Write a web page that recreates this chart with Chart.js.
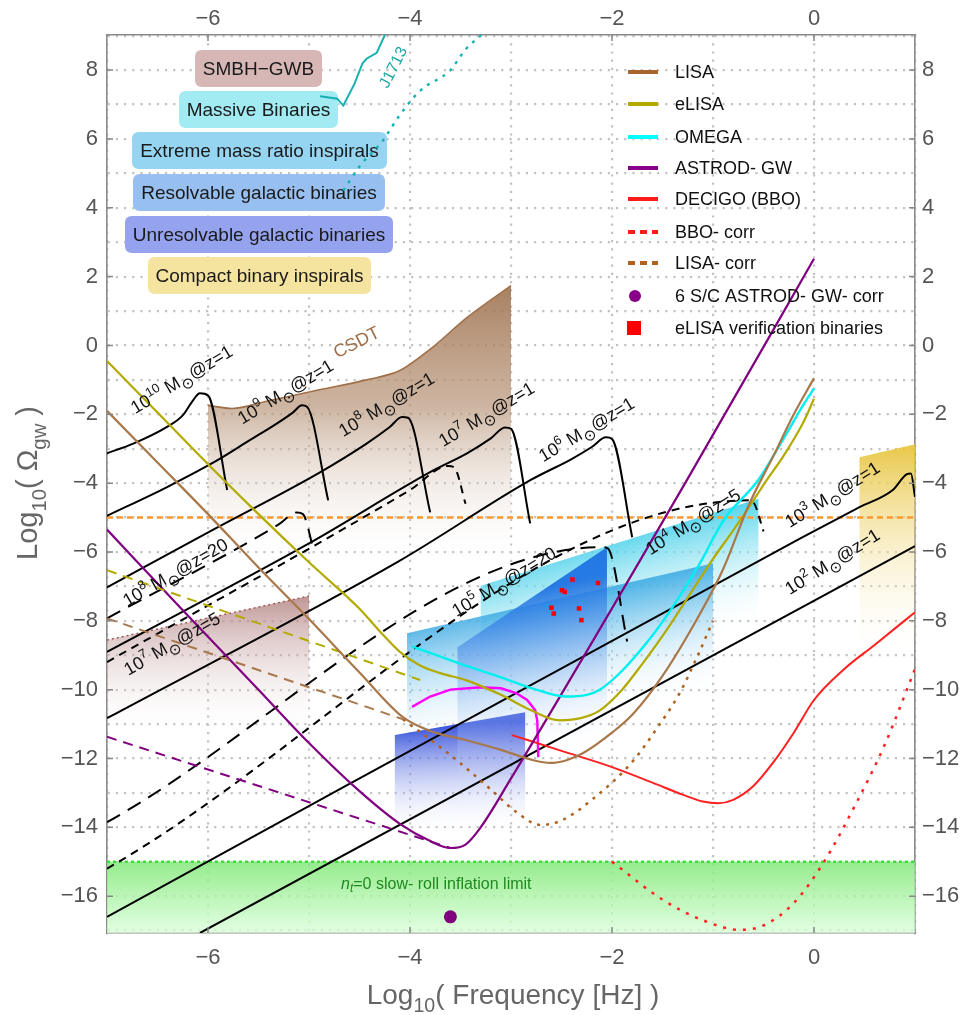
<!DOCTYPE html>
<html>
<head>
<meta charset="utf-8">
<script src="https://cdn.jsdelivr.net/npm/chart.js@4.4.1/dist/chart.umd.min.js"></script>
<style>
html,body{margin:0;padding:0;background:#fff;}
canvas{display:block;}
</style>
</head>
<body>
<canvas id="chart" width="968" height="1015"></canvas>
<script>
const FONT = '"Liberation Sans", Arial, sans-serif';

// ---- axes ----
const xRange = [-7, 1];
const yRange = [-17.07, 9.02];
const xGridValues = [-7, -6, -5, -4, -3, -2, -1, 0, 1];
const yGridValues = [-17, -16, -15, -14, -13, -12, -11, -10, -9, -8, -7, -6, -5, -4, -3, -2, -1, 0, 1, 2, 3, 4, 5, 6, 7, 8, 9];
const xTickLabels = [-6, -4, -2, 0];
const yTickLabels = [-16, -14, -12, -10, -8, -6, -4, -2, 0, 2, 4, 6, 8];

// ---- source regions (polygons) ----
const csdtTop = [[-6.0,-1.74],[-5.76,-1.83],[-5.42,-1.62],[-4.92,-1.3],[-4.43,-1.0],[-4.1,-0.73],[-3.78,-0.06],[-3.44,0.8],[-3.0,1.74]];
const csdtRegion = csdtTop.concat([[-3.0,-7.2],[-6.0,-7.2]]);
const smbhRegion = [[-7,-8.56],[-5.0,-7.28],[-5.0,-12],[-7,-12]];
const smbhTop = [[-7,-8.56],[-5.0,-7.28]];
const massiveRegion = [[-3.3,-6.98],[-0.55,-4.45],[-0.55,-10.5],[-3.3,-13]];
const emriRegion = [[-4.03,-8.36],[-1.0,-6.33],[-1.0,-12],[-4.03,-13]];
const resolvableRegion = [[-3.53,-8.77],[-2.05,-5.86],[-2.05,-12],[-3.53,-13]];
const unresolvableRegion = [[-4.15,-11.32],[-2.86,-10.66],[-2.86,-14.8],[-4.15,-14.8]];
const compactRegion = [[0.45,-3.25],[1.0,-2.87],[1.0,-9.6],[0.45,-9.6]];
const inflationRegion = [[-7,-15],[1,-15],[1,-17.07],[-7,-17.07]];
const inflationTop = [[-7,-15],[1,-15]];
const cmbLimit = [[-7,-5],[1,-5]];

// ---- detector sensitivity curves ----
const lisa = [[-7,-1.9],[-6.5,-3.4],[-6,-4.9],[-5.5,-6.45],[-5,-7.95],[-4.5,-9.5],[-4.07,-10.8],[-3.8,-11.2],[-3.44,-11.47],[-3.1,-11.75],[-2.78,-12.05],[-2.61,-12.13],[-2.45,-12.05],[-2.29,-11.85],[-2.0,-11.25],[-1.79,-10.7],[-1.5,-9.6],[-1.13,-7.8],[-0.9,-6.5],[-0.64,-4.6],[-0.4,-3.2],[-0.2,-2.0],[0,-0.95]];
const lisaLow = [[-7,-7.93],[-4.07,-10.86]];
const lisaCorr = [[-4.07,-10.86],[-3.6,-11.9],[-3.2,-12.9],[-2.95,-13.55],[-2.71,-13.93],[-2.5,-13.8],[-2.2,-13.2],[-1.8,-12.1],[-1.55,-11.1],[-1.33,-10.1],[-1.15,-9.0],[-1.0,-8.0]];
const elisa = [[-7,-0.45],[-6.5,-1.95],[-6,-3.45],[-5.5,-4.9],[-5,-6.3],[-4.5,-7.65],[-4.3,-8.3],[-4.1,-8.9],[-3.9,-9.3],[-3.7,-9.52],[-3.44,-9.73],[-3.1,-10.15],[-2.8,-10.6],[-2.52,-10.89],[-2.3,-10.82],[-2.12,-10.6],[-1.9,-10.0],[-1.7,-9.25],[-1.46,-8.27],[-1.2,-7.1],[-1.0,-6.2],[-0.8,-5.37],[-0.6,-4.5],[-0.47,-3.92],[-0.3,-3.2],[-0.1,-2.2],[0,-1.55]];
const elisaLow = [[-7,-6.53],[-3.9,-9.72]];
const omega = [[-3.98,-8.74],[-3.5,-9.25],[-3.1,-9.64],[-2.75,-10.0],[-2.45,-10.2],[-2.25,-10.15],[-2.12,-10.0],[-1.9,-9.45],[-1.62,-8.5],[-1.4,-7.6],[-1.13,-6.33],[-0.9,-5.1],[-0.55,-3.9],[-0.3,-2.7],[-0.1,-1.7],[0,-1.25]];
const astrod = [[-7,-5.35],[-6.28,-7.6],[-5.5,-10.0],[-5.0,-11.55],[-4.5,-12.95],[-4.1,-13.9],[-3.8,-14.4],[-3.6,-14.6],[-3.45,-14.5],[-3.3,-14.0],[-3.01,-12.63],[-1.26,-3.92],[0,2.52]];
const astrodLow = [[-7,-11.37],[-3.6,-14.6]];
const decigo = [[-2.99,-11.32],[-2.5,-11.78],[-2.0,-12.25],[-1.6,-12.7],[-1.3,-13.05],[-1.1,-13.25],[-0.95,-13.3],[-0.8,-13.2],[-0.6,-12.8],[-0.4,-12.1],[-0.2,-11.25],[0,-10.3],[0.3,-9.4],[0.6,-8.7],[1.0,-7.75]];
const bboCorr = [[-2.0,-15.0],[-1.5,-16.1],[-1.1,-16.7],[-0.73,-16.98],[-0.5,-16.85],[-0.2,-16.2],[0.1,-15.0],[0.4,-13.4],[0.7,-11.6],[1.0,-9.4]];
const magentaCurve = [[-3.98,-10.5],[-3.8,-10.2],[-3.6,-10.0],[-3.3,-9.93],[-3.1,-9.96],[-2.95,-10.1],[-2.84,-10.3],[-2.76,-10.6],[-2.74,-10.9],[-2.73,-11.96]];
const j1713 = [[-4.89,7.24],[-4.72,7.17],[-4.66,6.97],[-4.55,7.6],[-4.47,8.2],[-4.43,8.33],[-4.33,8.5],[-4.23,9.14]];
const j1713Dotted = [[-4.66,4.5],[-4.5,5.2],[-4.27,5.95],[-4.1,6.7],[-3.9,7.4],[-3.6,8.0],[-3.45,8.6],[-3.26,9.1]];
const astrodCorrPoint = [[-3.6,-16.6]];
const verificationBinaries = [[-2.392,-6.80],[-2.495,-7.11],[-2.468,-7.16],[-2.139,-6.90],[-2.60,-7.62],[-2.577,-7.79],[-2.327,-7.64],[-2.303,-7.98]];

// ---- black hole binary tracks ----
const track1e10z1 = [[-7,-3.13],[-6.74,-2.85],[-6.41,-2.37],[-6.25,-2.03],[-6.15,-1.6],[-6.08,-1.39],[-6.0,-1.45],[-5.81,-4.2]];
const track1e9z1 = [[-7,-4.95],[-6.41,-4.12],[-5.91,-3.34],[-5.59,-2.76],[-5.32,-2.27],[-5.16,-1.95],[-5.07,-1.74],[-5.02,-1.78],[-4.81,-4.5]];
const track1e8z1 = [[-7,-7.03],[-5.98,-5.4],[-4.9,-3.7],[-4.43,-2.85],[-4.2,-2.37],[-4.08,-2.08],[-4.02,-2.1],[-3.80,-4.85]];
const track1e7z1 = [[-7,-8.9],[-5,-5.75],[-3.77,-3.63],[-3.44,-3.14],[-3.2,-2.7],[-3.06,-2.38],[-3.0,-2.42],[-2.81,-5.17]];
const track1e6z1 = [[-7,-10.83],[-4.1,-6.25],[-2.8,-3.9],[-2.4,-3.3],[-2.2,-2.95],[-2.06,-2.67],[-2.0,-2.72],[-1.8,-5.57]];
const track1e3z1 = [[-7,-16.6],[-0.14,-5.61],[0.45,-4.7],[0.78,-4.2],[0.92,-3.74],[0.96,-3.72],[1.0,-4.4]];
const track1e2z1 = [[-6.08,-17.07],[1.0,-5.83]];
const track1e8z20 = [[-7,-7.93],[-5.3,-5.2],[-5.12,-4.85],[-5.06,-4.9],[-4.95,-6.0]];
const track1e7z5 = [[-7,-9.2],[-4.0,-4.2],[-3.62,-3.5],[-3.56,-3.55],[-3.45,-4.6]];
const track1e5z20 = [[-7,-13.85],[-2.09,-5.86],[-2.04,-5.9],[-1.85,-8.6]];
const track1e4z5 = [[-7,-15.2],[-0.64,-4.5],[-0.6,-4.55],[-0.5,-5.4]];

// ---- text annotations ----
const categoryNames = ['SMBH\u2212GWB', 'Massive Binaries', 'Extreme mass ratio inspirals', 'Resolvable galactic binaries', 'Unresolvable galactic binaries', 'Compact binary inspirals'];
const categoryColors = ['#d7b7b6', '#a2ebf3', '#95d5f2', '#97c0f0', '#95a3ee', '#f5e3a0'];
const categoryBoxes = [[195,50,127,37],[179,91,159,37],[132,132,255,37],[133,174,252,37],[125,216,268,37],[148,257,223,37]];

const legendNames = ['LISA', 'eLISA', 'OMEGA', 'ASTROD- GW', 'DECIGO (BBO)', 'BBO- corr', 'LISA- corr', '6 S/C ASTROD- GW- corr', 'eLISA verification binaries'];
const legendColors = ['#a8662e', '#b3aa00', '#00ffff', '#880088', '#ff1a1a', '#ff1a1a', '#b0621e', '#880088', '#ff0000'];
const legendKinds = ['line', 'line', 'line', 'line', 'line', 'dash', 'dash', 'dot', 'square'];
const legendRowsY = [72, 104, 137, 168, 199, 232, 263, 296, 328];

const massExponents = ['10', '9', '8', '7', '6', '8', '7', '5', '4', '3', '2'];
const massRedshifts = ['1', '1', '1', '1', '1', '20', '5', '20', '5', '1', '1'];
const massLabelAnchors = [[-6.72,-2.0],[-5.66,-2.3],[-4.66,-2.67],[-3.67,-2.96],[-2.68,-3.4],[-6.80,-7.6],[-6.79,-9.6],[-3.54,-7.9],[-1.62,-6.1],[-0.24,-5.31],[-0.24,-7.26]];
const massLabelAngles = [31, 31, 31, 31, 31, 30, 30, 31, 32, 32, 32];

const P = arr => arr.map(([x, y]) => ({x, y}));

function gradFill(stops, from, to) {
  return (c) => {
    const ch = c.chart;
    if (!ch.chartArea) return stops[0][1];
    const xs = ch.scales.x, ys = ch.scales.y;
    const g = ch.ctx.createLinearGradient(
      xs.getPixelForValue(from[0]), ys.getPixelForValue(from[1]),
      xs.getPixelForValue(to[0]), ys.getPixelForValue(to[1]));
    stops.forEach(([o, col]) => g.addColorStop(o, col));
    return g;
  };
}

function region(poly, stops, from, to, order) {
  return {data: P(poly), showLine: true, fill: 'shape', borderWidth: 0, borderColor: 'rgba(0,0,0,0)',
          pointRadius: 0, backgroundColor: gradFill(stops, from, to), order, tension: 0};
}

function curve(pts, color, width, dash, order, smooth) {
  return {data: P(pts), showLine: true, fill: false, borderColor: color, borderWidth: width,
          borderDash: dash || [], pointRadius: 0, order: order, tension: smooth ? 0.4 : 0,
          cubicInterpolationMode: smooth ? 'monotone' : 'default', borderCapStyle: 'butt'};
}

const LONG = [15, 9];
const SHORT = [8, 6];

const datasets = [
  region(inflationRegion, [[0, 'rgba(130,232,120,0.85)'], [1, 'rgba(215,255,215,0.75)']], [0, -15], [0, -17.07], 40),
  curve(inflationTop, '#3be03b', 2.5, [3, 3], 39),
  region(csdtRegion, [[0, 'rgba(155,110,75,0.9)'], [0.45, 'rgba(185,150,122,0.7)'], [1, 'rgba(255,255,255,0)']], [0, 2], [0, -6.4], 30),
  curve(csdtTop, '#a27048', 1.6, [], 29, true),
  region(smbhRegion, [[0, 'rgba(170,115,115,0.75)'], [1, 'rgba(255,255,255,0)']], [0, -7.3], [0, -11.4], 30),
  curve(smbhTop, '#a05a5a', 1.5, [2, 3], 29),
  region(massiveRegion, [[0, 'rgba(60,205,232,0.9)'], [1, 'rgba(255,255,255,0)']], [-2.14, -5.57], [-1.82, -9.2], 31),
  region(emriRegion, [[0, 'rgba(60,170,228,0.85)'], [1, 'rgba(255,255,255,0)']], [-2.5, -7.35], [-2.25, -10.9], 30),
  region(resolvableRegion, [[0, 'rgba(25,110,225,0.9)'], [1, 'rgba(255,255,255,0)']], [-2.6, -7.0], [-2.25, -11.8], 29),
  region(unresolvableRegion, [[0, 'rgba(35,65,215,0.9)'], [1, 'rgba(255,255,255,0)']], [-3.5, -11.0], [-3.45, -14.2], 29),
  region(compactRegion, [[0, 'rgba(232,196,60,0.9)'], [1, 'rgba(255,255,255,0)']], [0.7, -3.0], [0.7, -9.3], 30),
  curve(cmbLimit, '#ff9a2e', 2.5, [6, 4], 20),

  curve(track1e10z1, '#000', 2, [], 8, true),
  curve(track1e9z1, '#000', 2, [], 8, true),
  curve(track1e8z1, '#000', 2, [], 8, true),
  curve(track1e7z1, '#000', 2, [], 8, true),
  curve(track1e6z1, '#000', 2, [], 8, true),
  curve(track1e3z1, '#000', 2, [], 8, true),
  curve(track1e2z1, '#000', 2, [], 8, false),
  curve(track1e8z20, '#000', 2, LONG, 8, true),
  curve(track1e7z5, '#000', 2, SHORT, 8, true),
  curve(track1e5z20, '#000', 2, LONG, 8, true),
  curve(track1e4z5, '#000', 2, SHORT, 8, true),

  curve(lisa, '#a8784a', 2.2, [], 5, true),
  curve(lisaLow, '#a8784a', 2, [10, 7], 5, false),
  curve(lisaCorr, '#b0621e', 2.5, [3, 6], 5, true),
  curve(elisa, '#b3aa00', 2.2, [], 5, true),
  curve(elisaLow, '#b3aa00', 2, [10, 7], 5, false),
  curve(omega, '#00f0f0', 2.4, [], 5, true),
  curve(astrod, '#800080', 2.2, [], 5, true),
  curve(astrodLow, '#800080', 2, [10, 7], 5, false),
  curve(decigo, '#ff2020', 2, [], 5, true),
  curve(bboCorr, '#ff2020', 2.5, [3, 7], 5, true),
  curve(magentaCurve, '#ff00ff', 2.4, [], 5, false),
  curve(j1713, '#16b0b0', 2, [], 5, false),
  curve(j1713Dotted, '#16b0b0', 2.4, [3, 6], 5, true),

  {data: P(astrodCorrPoint), pointRadius: 6.5, pointBackgroundColor: '#800080', pointBorderWidth: 0, showLine: false, order: 1},
  {data: P(verificationBinaries), pointStyle: 'rect', pointRadius: 3.2, pointBackgroundColor: '#ff0000', pointBorderWidth: 0, showLine: false, order: 1}
];

function fmt(v) { return v < 0 ? '\u2212' + Math.abs(v) : String(v); }

function drawRich(ctx, x, y, angleDeg, parts, size, color, center) {
  ctx.save();
  ctx.translate(x, y);
  ctx.rotate(-angleDeg * Math.PI / 180);
  ctx.fillStyle = color;
  ctx.textBaseline = 'alphabetic';
  ctx.textAlign = 'left';
  const fontFor = p => `${p.italic ? 'italic ' : ''}${(p.sup || p.sub) ? size * (p.scale || 0.72) : size}px ${FONT}`;
  let total = 0;
  parts.forEach(p => { ctx.font = fontFor(p); total += ctx.measureText(p.t).width; });
  let cx = center ? -total / 2 : 0;
  parts.forEach(p => {
    ctx.font = fontFor(p);
    const dy = p.sup ? -size * 0.42 : p.sub ? size * (p.drop || 0.25) : 0;
    ctx.fillText(p.t, cx, dy);
    cx += ctx.measureText(p.t).width;
  });
  ctx.restore();
}

function massParts(exp, z) {
  return [{t: '10'}, {t: exp, sup: true}, {t: ' M'}, {t: '\u2299', sub: true, scale: 0.85, drop: 0.3}, {t: '@z=' + z}];
}

function roundRect(ctx, x, y, w, h, r) {
  ctx.beginPath();
  ctx.moveTo(x + r, y);
  ctx.lineTo(x + w - r, y); ctx.quadraticCurveTo(x + w, y, x + w, y + r);
  ctx.lineTo(x + w, y + h - r); ctx.quadraticCurveTo(x + w, y + h, x + w - r, y + h);
  ctx.lineTo(x + r, y + h); ctx.quadraticCurveTo(x, y + h, x, y + h - r);
  ctx.lineTo(x, y + r); ctx.quadraticCurveTo(x, y, x + r, y);
  ctx.closePath();
}

const decor = {
  id: 'decor',
  beforeDatasetsDraw(chart) {
    const ctx = chart.ctx;
    ctx.save();
    categoryNames.forEach((name, i) => {
      const [bx, by, bw, bh] = categoryBoxes[i];
      ctx.fillStyle = categoryColors[i];
      roundRect(ctx, bx, by, bw, bh, 7);
      ctx.fill();
      ctx.fillStyle = '#1a1a1a';
      ctx.font = `19px ${FONT}`;
      ctx.textAlign = 'center';
      ctx.textBaseline = 'middle';
      ctx.fillText(name, bx + bw / 2, by + bh / 2 + 1);
    });
    ctx.restore();
  },
  afterDatasetsDraw(chart) {
    const ctx = chart.ctx;
    const xs = chart.scales.x, ys = chart.scales.y;
    const a = chart.chartArea;
    ctx.save();
    // frame tick marks
    ctx.strokeStyle = '#888';
    ctx.lineWidth = 1.5;
    xTickLabels.forEach(v => {
      const px = xs.getPixelForValue(v);
      ctx.beginPath();
      ctx.moveTo(px, a.bottom); ctx.lineTo(px, a.bottom - 6);
      ctx.moveTo(px, a.top); ctx.lineTo(px, a.top + 6);
      ctx.stroke();
    });
    yTickLabels.forEach(v => {
      const py = ys.getPixelForValue(v);
      ctx.beginPath();
      ctx.moveTo(a.left, py); ctx.lineTo(a.left + 6, py);
      ctx.moveTo(a.right, py); ctx.lineTo(a.right - 6, py);
      ctx.stroke();
    });

    // mass labels on the binary tracks
    massExponents.forEach((e, i) => {
      const [lx, ly] = massLabelAnchors[i];
      drawRich(ctx, xs.getPixelForValue(lx), ys.getPixelForValue(ly), massLabelAngles[i], massParts(e, massRedshifts[i]), 18, '#111');
    });
    drawRich(ctx, xs.getPixelForValue(-4.72), ys.getPixelForValue(-0.38), 27, [{t: 'CSDT'}], 18, '#a06e48');
    drawRich(ctx, xs.getPixelForValue(-4.22), ys.getPixelForValue(7.45), 63, [{t: 'J1713'}], 16, '#20a8a8');
    drawRich(ctx, xs.getPixelForValue(-3.74), ys.getPixelForValue(-15.8), 0,
      [{t: 'n', italic: true}, {t: 't', sub: true, italic: true, scale: 0.75, drop: 0.2}, {t: '=0 slow- roll inflation limit'}], 16, '#1f8a1f', true);

    // legend
    legendNames.forEach((name, i) => {
      const yy = legendRowsY[i];
      const col = legendColors[i];
      ctx.fillStyle = col;
      ctx.strokeStyle = col;
      const kind = legendKinds[i];
      if (kind === 'line' || kind === 'dash') {
        ctx.lineWidth = 4;
        ctx.setLineDash(kind === 'dash' ? [7, 5] : []);
        ctx.beginPath(); ctx.moveTo(628, yy); ctx.lineTo(658, yy); ctx.stroke();
        ctx.setLineDash([]);
      } else if (kind === 'dot') {
        ctx.beginPath(); ctx.arc(635, yy, 6, 0, Math.PI * 2); ctx.fill();
      } else {
        ctx.fillRect(627, yy - 7, 14, 14);
      }
      ctx.fillStyle = '#111';
      ctx.font = `18px ${FONT}`;
      ctx.textAlign = 'left';
      ctx.textBaseline = 'middle';
      ctx.fillText(name, 675, yy + 1);
    });

    // axis titles
    drawRich(ctx, (a.left + a.right) / 2 + 2, 1004, 0,
      [{t: 'Log'}, {t: '10', sub: true, scale: 0.7, drop: 0.3}, {t: '( Frequency [Hz] )'}], 28, '#666', true);
    drawRich(ctx, 37, 483, 90,
      [{t: 'Log'}, {t: '10', sub: true, scale: 0.7, drop: 0.3}, {t: '( \u03A9'}, {t: 'gw', sub: true, scale: 0.7, drop: 0.3}, {t: ' )'}], 29, '#666', true);
    ctx.restore();
  }
};

const tickFont = {family: FONT, size: 22};
function xAxis(pos, h, grid) {
  return {
    type: 'linear', position: pos, min: xRange[0], max: xRange[1],
    afterBuildTicks: s => { s.ticks = xGridValues.map(v => ({value: v})); },
    afterFit: s => { s.height = h; },
    ticks: {callback: v => xTickLabels.includes(v) ? fmt(v) : '', font: tickFont, color: '#555', padding: pos === 'bottom' ? 12 : 3, autoSkip: false, maxRotation: 0},
    grid: {display: grid, color: '#c2c2c2', lineWidth: 2.2, drawTicks: false},
    border: {display: true, color: '#8a8a8a', width: 1.6, dash: [2.2, 6]}
  };
}
function yAxis(pos, w, grid) {
  return {
    type: 'linear', position: pos, min: yRange[0], max: yRange[1],
    afterBuildTicks: s => { s.ticks = yGridValues.map(v => ({value: v})); },
    afterFit: s => { s.width = w; },
    ticks: {callback: v => yTickLabels.includes(v) ? fmt(v) : '', font: tickFont, color: '#555', padding: pos === 'left' ? 9 : 7, autoSkip: false},
    grid: {display: grid, color: '#c2c2c2', lineWidth: 2.2, drawTicks: false},
    border: {display: true, color: '#8a8a8a', width: 1.6, dash: [2.2, 6]}
  };
}

new Chart(document.getElementById('chart'), {
  type: 'scatter',
  data: {datasets},
  options: {
    responsive: false,
    animation: false,
    devicePixelRatio: 1,
    layout: {padding: 0},
    plugins: {legend: {display: false}, tooltip: {enabled: false}},
    elements: {point: {radius: 0}},
    scales: {
      x: xAxis('bottom', 82, true),
      x2: xAxis('top', 35, false),
      y: yAxis('left', 107, true),
      y2: yAxis('right', 53, false)
    }
  },
  plugins: [decor]
});
</script>
</body>
</html>
